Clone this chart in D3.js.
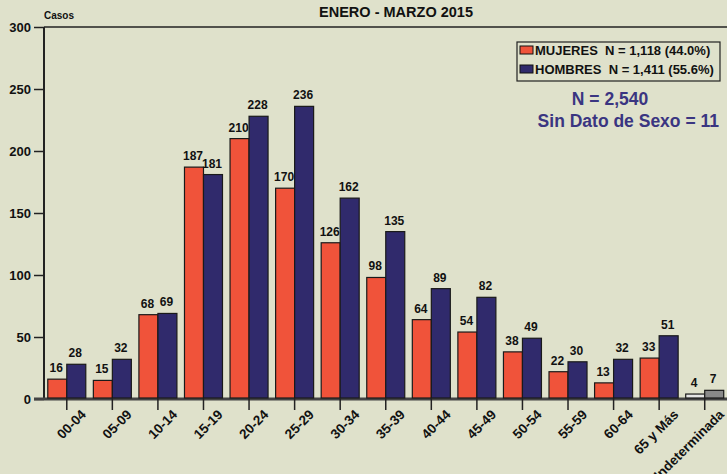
<!DOCTYPE html>
<html>
<head>
<meta charset="utf-8">
<script src="https://cdn.jsdelivr.net/npm/d3@7"></script>
<style>
  body { margin: 0; background: #dfe1cb; }
  text { font-family: Arial, "Liberation Sans", sans-serif; font-weight: bold; white-space: pre; }
</style>
</head>
<body>
<svg width="727" height="474"></svg>
<script>
// categorias de edad
var grupos = ["00-04","05-09","10-14","15-19","20-24","25-29","30-34","35-39","40-44","45-49","50-54","55-59","60-64","65 y Más","Indeterminada"];
var mujeres = [16,15,68,187,210,170,126,98,64,54,38,22,13,33,4];
var hombres = [28,32,69,181,228,236,162,135,89,82,49,30,32,51,7];
var yTicks = [0,50,100,150,200,250,300];

var svg = d3.select("svg");
var mLeft = 44, mRight = 727.5, mTop = 27, mBottom = 399;

var x = d3.scaleBand().domain(grupos).range([mLeft, mRight]);
var y = d3.scaleLinear().domain([0, 300]).range([mBottom, mTop]);

var rojo = "#f0533a", azul = "#302a6c";

// borde superior
svg.append("line").attr("x1", mLeft).attr("x2", 727).attr("y1", mTop).attr("y2", mTop)
  .attr("stroke", "#222").attr("stroke-width", 1.5);

// eje y
var yAxis = svg.append("g").attr("transform", "translate(" + mLeft + ",0)")
  .call(d3.axisLeft(y).tickValues(yTicks).tickSize(10).tickPadding(3));
yAxis.select(".domain").attr("stroke", "#222").attr("stroke-width", 2).attr("d", "M0," + mTop + "V" + mBottom);
yAxis.selectAll(".tick line").attr("stroke", "#222").attr("stroke-width", 1.5);
yAxis.selectAll("text").attr("font-size", "13px").attr("fill", "#111");

// eje x
var xAxis = svg.append("g").attr("transform", "translate(0," + mBottom + ")")
  .call(d3.axisBottom(x).tickSize(11).tickPadding(4));
xAxis.select(".domain").attr("stroke", "#444").attr("stroke-width", 3).attr("d", "M" + (mLeft - 10) + ",0H727");
xAxis.selectAll(".tick line").attr("stroke", "#222").attr("stroke-width", 1.5);
xAxis.selectAll("text").attr("font-size", "13.5px").attr("fill", "#111")
  .style("text-anchor", "end")
  .attr("dx", "0.2em").attr("dy", "0.8em")
  .attr("transform", "rotate(-45)");

var bw = 19;
var g = svg.append("g");

grupos.forEach(function(c, i) {
  var cx = x(c) + x.bandwidth() / 2;
  var ult = (c == "Indeterminada");
  var datos = [
    {v: mujeres[i], x0: cx - bw, col: ult ? "#e6e6e6" : rojo},
    {v: hombres[i], x0: cx, col: ult ? "#8a8a8a" : azul}
  ];
  datos.forEach(function(d) {
    g.append("rect")
      .attr("x", d.x0).attr("y", y(d.v))
      .attr("width", bw).attr("height", mBottom - y(d.v) - 1)
      .attr("fill", d.col).attr("stroke", "#1a1a1a").attr("stroke-width", 1.2);
    g.append("text")
      .attr("x", d.x0 + bw / 2 - 1).attr("y", y(d.v) - 7)
      .attr("text-anchor", "middle").attr("font-size", "12px").attr("fill", "#111")
      .text(d.v);
  });
});

// titulos
svg.append("text").attr("x", 396).attr("y", 17).attr("text-anchor", "middle")
  .attr("font-size", "14.5px").attr("fill", "#111").text("ENERO - MARZO 2015");
svg.append("text").attr("x", 44).attr("y", 19).attr("font-size", "10px").attr("fill", "#111").text("Casos");

// leyenda
var leg = svg.append("g");
leg.append("rect").attr("x", 517).attr("y", 42).attr("width", 203).attr("height", 39)
  .attr("fill", "none").attr("stroke", "#222").attr("stroke-width", 1.2);
var items = [["MUJERES  N = 1,118 (44.0%)", rojo], ["HOMBRES  N = 1,411 (55.6%)", azul]];
items.forEach(function(it, i) {
  leg.append("rect").attr("x", 520).attr("y", 46 + i * 19).attr("width", 13).attr("height", 8)
    .attr("fill", it[1]).attr("stroke", "#111").attr("stroke-width", 1);
  leg.append("text").attr("x", 535).attr("y", 55 + i * 19).attr("font-size", "13px").attr("fill", "#111").text(it[0]);
});

svg.append("text").attr("x", 610).attr("y", 105).attr("text-anchor", "middle")
  .attr("font-size", "17.5px").attr("fill", "#3a3581").text("N = 2,540");
svg.append("text").attr("x", 719).attr("y", 127).attr("text-anchor", "end")
  .attr("font-size", "17.5px").attr("fill", "#3a3581").text("Sin Dato de Sexo = 11");
</script>
</body>
</html>
